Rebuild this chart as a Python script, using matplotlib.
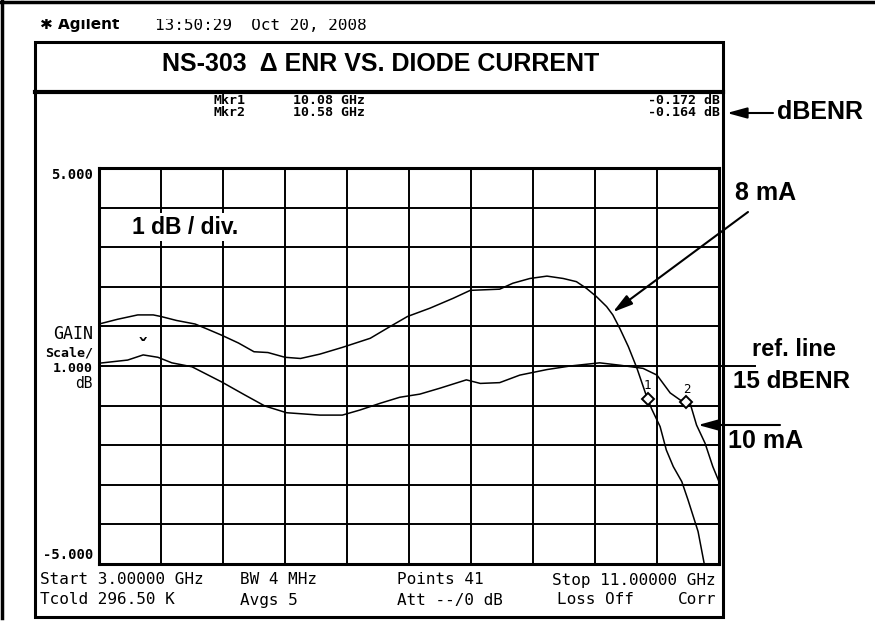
import numpy as np
import matplotlib
matplotlib.use("Agg")
import matplotlib.pyplot as plt
from matplotlib.patches import Rectangle

# Delta ENR traces (dB) vs frequency (GHz), one per diode current
freq_8ma = [3.0, 3.24, 3.5, 3.7, 3.8, 4.0, 4.24, 4.4, 4.58, 4.8, 5.0, 5.18, 5.4, 5.6,
            5.85, 6.14, 6.5, 6.75, 6.98, 7.27, 7.57, 7.79, 8.17, 8.34, 8.56, 8.78,
            8.99, 9.16, 9.29, 9.42, 9.55, 9.63, 9.72, 9.83, 9.94, 10.05, 10.13,
            10.24, 10.32, 10.41, 10.52, 10.6, 10.67, 10.73, 10.81]
enr_8ma = [1.06, 1.18, 1.29, 1.29, 1.25, 1.15, 1.06, 0.93, 0.78, 0.58, 0.36, 0.34, 0.22, 0.19,
           0.30, 0.47, 0.70, 0.99, 1.25, 1.46, 1.71, 1.91, 1.94, 2.09, 2.21, 2.27,
           2.21, 2.13, 1.96, 1.75, 1.50, 1.29, 0.95, 0.49, -0.05, -0.68, -1.08,
           -1.53, -2.12, -2.54, -2.92, -3.38, -3.81, -4.18, -5.0]

freq_10ma = [3.0, 3.37, 3.57, 3.76, 3.94, 4.2, 4.58, 4.88, 5.14, 5.42, 5.85, 6.14, 6.37,
             6.63, 6.88, 7.14, 7.40, 7.74, 7.92, 8.17, 8.43, 8.78, 9.08, 9.46, 9.72,
             10.02, 10.2, 10.37, 10.5, 10.63, 10.71, 10.82, 10.92, 11.0]
enr_10ma = [0.07, 0.15, 0.28, 0.22, 0.08, -0.02, -0.40, -0.73, -1.01, -1.18, -1.24, -1.24, -1.11,
            -0.94, -0.79, -0.71, -0.56, -0.35, -0.44, -0.42, -0.23, -0.09, 0.0, 0.08, 0.02,
            -0.06, -0.23, -0.68, -0.86, -0.96, -1.49, -1.95, -2.54, -2.92]

marker_freqs = [10.08, 10.58]
marker_readouts = ["-0.172 dB", "-0.164 dB"]

W, H = 875, 630
MONO = "DejaVu Sans Mono"
SANS = "Liberation Sans"

fig = plt.figure(figsize=(W / 100, H / 100), dpi=100)
fig.patch.set_facecolor("white")

# graticule: 10 x 10 divisions, 1 dB/div
ax = fig.add_axes([99 / W, 1 - 564 / H, 620 / W, 396 / H])
ax.plot(freq_8ma, enr_8ma, color="black", lw=1.1, zorder=3)
ax.plot(freq_10ma, enr_10ma, color="black", lw=1.1, zorder=3)
ax.set_xlim(3, 11)
ax.set_ylim(-5, 5)
ax.set_xticks(np.linspace(3, 11, 11))
ax.set_yticks(np.arange(-5, 6))
ax.tick_params(length=0, labelbottom=False, labelleft=False)
ax.grid(True, color="black", lw=1.4)
for s in ax.spines.values():
    s.set_linewidth(2.2)

# markers sit on the traces at the marker frequencies
mk_vals = [np.interp(marker_freqs[0], freq_8ma, enr_8ma),
           np.interp(marker_freqs[1], freq_10ma, enr_10ma)]
ax.plot(marker_freqs, mk_vals, ls="none", marker="D", ms=6, mfc="white",
        mec="black", mew=1.4, zorder=5)
for i, (f, v) in enumerate(zip(marker_freqs, mk_vals)):
    ax.annotate(str(i + 1), (f, v), xytext=(0, 5), textcoords="offset points",
                ha="center", va="bottom", fontsize=9, family=MONO)
ax.text(3.57, 0.45, "ˇ", ha="center", va="center", fontsize=15, fontweight="bold")

# reference line extends past the right edge
ax.plot([1.0, 1.058], [0, 0], transform=ax.get_yaxis_transform(), clip_on=False,
        color="black", lw=1.4)

# overlay in pixel units for the instrument frame and notes
ov = fig.add_axes([0, 0, 1, 1], facecolor="none")
ov.set_xlim(0, W)
ov.set_ylim(H, 0)
ov.axis("off")

# header line (top of the glyphs cut off)
ov.text(40, 25, "✱ Agilent", fontsize=11, fontweight="bold", va="center", family="DejaVu Sans")
ov.text(155, 25, "13:50:29  Oct 20, 2008", fontsize=11.5, va="center", family=MONO)
ov.add_patch(Rectangle((5, 5), 500, 14, fc="white", ec="none", zorder=10))

ov.plot([0, W], [1.5, 1.5], color="black", lw=2.5, zorder=11)
ov.plot([1.5, 1.5], [0, 618], color="black", lw=2.5, zorder=11)
ov.add_patch(Rectangle((35, 42), 688, 575, fill=False, ec="black", lw=2.2))
ov.plot([35, 723], [92, 92], color="black", lw=3)

ov.text(381, 64, "NS-303  Δ ENR VS. DIODE CURRENT", ha="center", va="center",
        fontsize=18, fontweight="bold", family=SANS)

# marker readouts
for i, row_y in enumerate([100, 113]):
    ov.text(213, row_y, f"Mkr{i + 1}", fontsize=9.5, va="center", family=MONO, fontweight="bold")
    ov.text(293, row_y, f"{marker_freqs[i]:.2f} GHz", fontsize=9.5, va="center",
            family=MONO, fontweight="bold")
    ov.text(720, row_y, marker_readouts[i], fontsize=9.5, va="center", ha="right",
            family=MONO, fontweight="bold")

ov.text(777, 112, "dBENR", fontsize=18, fontweight="bold", va="center", family=SANS)
arrow = dict(arrowstyle="-|>,head_length=0.8,head_width=0.22", color="black", lw=1.5,
             mutation_scale=15, shrinkA=0, shrinkB=0)
ov.annotate("", xy=(727, 113), xytext=(773, 113), arrowprops=arrow)

# trace labels
ov.text(735, 193, "8 mA", fontsize=18, fontweight="bold", va="center", family=SANS)
ov.annotate("", xy=(9.63, 1.36), xycoords=ax.transData, xytext=(748, 212),
            textcoords="data", arrowprops=arrow)
ov.text(752, 350, "ref. line", fontsize=17, fontweight="bold", va="center", family=SANS)
ov.text(733, 382, "15 dBENR", fontsize=17.5, fontweight="bold", va="center", family=SANS)
ov.text(728, 441, "10 mA", fontsize=18, fontweight="bold", va="center", family=SANS)
ov.annotate("", xy=(10.73, -1.49), xycoords=ax.transData, xytext=(780, 425),
            textcoords="data", arrowprops=arrow)
ov.text(132, 227, "1 dB / div.", fontsize=16.5, fontweight="bold", va="center", family=SANS,
        bbox=dict(fc="white", ec="none", pad=2))

# scale annotations
ov.text(93, 175, "5.000", fontsize=10, ha="right", va="center", family=MONO, fontweight="bold")
ov.text(93, 334, "GAIN", fontsize=12, ha="right", va="center", family=MONO)
ov.text(93, 353, "Scale/", fontsize=9.5, ha="right", va="center", family=MONO, fontweight="bold")
ov.text(93, 368, "1.000", fontsize=9.5, ha="right", va="center", family=MONO, fontweight="bold")
ov.text(93, 383, "dB", fontsize=10.5, ha="right", va="center", family=MONO)
ov.text(93, 555, "-5.000", fontsize=10, ha="right", va="center", family=MONO, fontweight="bold")

# sweep settings
bottom_rows = [
    (40, 580, "Start 3.00000 GHz", "left"),
    (240, 580, "BW 4 MHz", "left"),
    (397, 580, "Points 41", "left"),
    (716, 580, "Stop 11.00000 GHz", "right"),
    (40, 600, "Tcold 296.50 K", "left"),
    (240, 600, "Avgs 5", "left"),
    (397, 600, "Att --/0 dB", "left"),
    (557, 600, "Loss Off", "left"),
    (716, 600, "Corr", "right"),
]
for x, y, s, ha in bottom_rows:
    ov.text(x, y, s, fontsize=11.5, va="center", ha=ha, family=MONO)

fig.savefig("out.png", dpi=100)
